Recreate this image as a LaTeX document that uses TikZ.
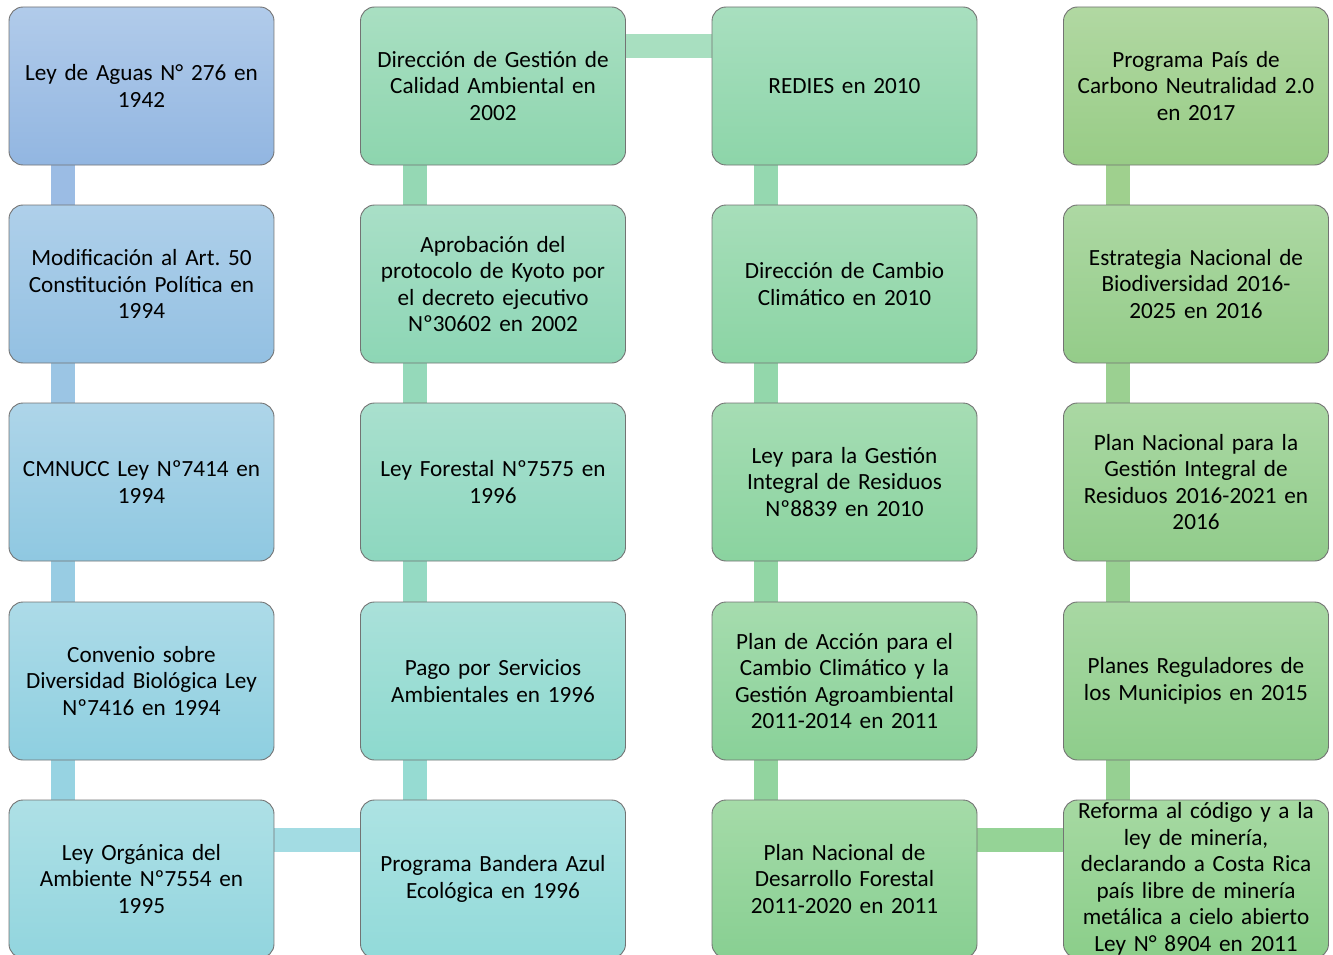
\documentclass[tikz,border=0pt]{standalone}
\usepackage{fontspec}
\setmainfont{Carlito}
\frenchspacing
\begin{document}
\begin{tikzpicture}[x=1pt,y=-1pt,
  box/.style={draw=black!55, line width=0.9pt, rounded corners=14pt,
    minimum width=265pt, minimum height=158pt, inner xsep=4pt, inner ysep=0pt,
    text width=252pt, align=center, font=\fontsize{23.2}{26.5}\selectfont},
  bar/.style={line width=24pt}]
\useasboundingbox (0,0) rectangle (1333,955);
% colours
\definecolor{a1t}{HTML}{B1CBEA}\definecolor{a1b}{HTML}{92B6E1}
\definecolor{a2t}{HTML}{AFD0EA}\definecolor{a2b}{HTML}{93C0E2}
\definecolor{a3t}{HTML}{AED5E9}\definecolor{a3b}{HTML}{8FC8E1}
\definecolor{a4t}{HTML}{ADDBE8}\definecolor{a4b}{HTML}{8ECFE0}
\definecolor{a5t}{HTML}{AEE0E6}\definecolor{a5b}{HTML}{92D5DE}
\definecolor{b1t}{HTML}{A9DFC2}\definecolor{b1b}{HTML}{8DD5AE}
\definecolor{b2t}{HTML}{A9DFC7}\definecolor{b2b}{HTML}{8DD6B5}
\definecolor{b3t}{HTML}{A9E0CE}\definecolor{b3b}{HTML}{8DD7BF}
\definecolor{b4t}{HTML}{AAE1DA}\definecolor{b4b}{HTML}{8DD9CE}
\definecolor{b5t}{HTML}{ADE3E3}\definecolor{b5b}{HTML}{92DAD9}
\definecolor{c1t}{HTML}{A8DFBF}\definecolor{c1b}{HTML}{8DD5A9}
\definecolor{c2t}{HTML}{A7DEBA}\definecolor{c2b}{HTML}{8BD4A4}
\definecolor{c3t}{HTML}{A6DDB4}\definecolor{c3b}{HTML}{8AD39F}
\definecolor{c4t}{HTML}{A6DCAE}\definecolor{c4b}{HTML}{89D199}
\definecolor{c5t}{HTML}{A5DBA8}\definecolor{c5b}{HTML}{88CF92}
\definecolor{d1t}{HTML}{B1D8A2}\definecolor{d1b}{HTML}{98CC86}
\definecolor{d2t}{HTML}{ADD8A3}\definecolor{d2b}{HTML}{94CC89}
\definecolor{d3t}{HTML}{AAD8A3}\definecolor{d3b}{HTML}{91CC8B}
\definecolor{d4t}{HTML}{A8D8A3}\definecolor{d4b}{HTML}{8ECD8B}
\definecolor{d5t}{HTML}{A6D9A2}\definecolor{d5b}{HTML}{8BCE8A}
\def\cA{141.5}\def\cB{493}\def\cC{844.5}\def\cD{1196}
\def\rA{86}\def\rB{284}\def\rC{482}\def\rD{681}\def\rE{879}
% bars drawn first
\foreach \cx/\col in {\cA/a,\cB/b,\cC/c,\cD/d}{
  \foreach \ra/\rb/\k in {\rA/\rB/1,\rB/\rC/2,\rC/\rD/3,\rD/\rE/4}{
    \coordinate (\col\k bs) at (\cx-78.5,\ra+79);
    \coordinate (\col\k be) at (\cx-78.5,\rb-79);
    \draw[bar, color=\col\k b!70!\col\k t] (\col\k bs) -- (\col\k be);
  }}
\coordinate (h1s) at (\cB+132.5,46);\coordinate (h1e) at (\cC-132.5,46);
\draw[bar, color=b1t!50!c1t] (h1s) -- (h1e);
\coordinate (h2s) at (\cA+132.5,839.5);\coordinate (h2e) at (\cB-132.5,839.5);
\draw[bar, color=a5t!60!a5b] (h2s) -- (h2e);
\coordinate (h3s) at (\cC+132.5,839.5);\coordinate (h3e) at (\cD-132.5,839.5);
\draw[bar, color=c5t!40!d5b] (h3s) -- (h3e);
% boxes
\node[box, top color=a1t, bottom color=a1b] (a1) at (\cA,\rA) {Ley de Aguas N° 276 en\\1942};
\node[box, top color=a2t, bottom color=a2b] (a2) at (\cA,\rB) {Modificación al Art. 50\\Constitución Política en\\1994};
\node[box, top color=a3t, bottom color=a3b] (a3) at (\cA,\rC) {CMNUCC Ley Nº7414 en\\1994};
\node[box, top color=a4t, bottom color=a4b] (a4) at (\cA,\rD) {Convenio sobre\\Diversidad Biológica Ley\\Nº7416 en 1994};
\node[box, top color=a5t, bottom color=a5b] (a5) at (\cA,\rE) {Ley Orgánica del\\Ambiente Nº7554 en\\1995};
\node[box, top color=b1t, bottom color=b1b] (b1) at (\cB,\rA) {Dirección de Gestión de\\Calidad Ambiental en\\2002};
\node[box, top color=b2t, bottom color=b2b] (b2) at (\cB,\rB) {Aprobación del\\protocolo de Kyoto por\\el decreto ejecutivo\\Nº30602 en 2002};
\node[box, top color=b3t, bottom color=b3b] (b3) at (\cB,\rC) {Ley Forestal Nº7575 en\\1996};
\node[box, top color=b4t, bottom color=b4b] (b4) at (\cB,\rD) {Pago por Servicios\\Ambientales en 1996};
\node[box, top color=b5t, bottom color=b5b] (b5) at (\cB,\rE) {Programa Bandera Azul\\Ecológica en 1996};
\node[box, top color=c1t, bottom color=c1b] (c1) at (\cC,\rA) {REDIES en 2010};
\node[box, top color=c2t, bottom color=c2b] (c2) at (\cC,\rB) {Dirección de Cambio\\Climático en 2010};
\node[box, top color=c3t, bottom color=c3b] (c3) at (\cC,\rC) {Ley para la Gestión\\Integral de Residuos\\Nº8839 en 2010};
\node[box, top color=c4t, bottom color=c4b] (c4) at (\cC,\rD) {Plan de Acción para el\\Cambio Climático y la\\Gestión Agroambiental\\2011-2014 en 2011};
\node[box, top color=c5t, bottom color=c5b] (c5) at (\cC,\rE) {Plan Nacional de\\Desarrollo Forestal\\2011-2020 en 2011};
\node[box, top color=d1t, bottom color=d1b] (d1) at (\cD,\rA) {Programa País de\\Carbono Neutralidad 2.0\\en 2017};
\node[box, top color=d2t, bottom color=d2b] (d2) at (\cD,\rB) {Estrategia Nacional de\\Biodiversidad 2016-\\2025 en 2016};
\node[box, top color=d3t, bottom color=d3b] (d3) at (\cD,\rC) {Plan Nacional para la\\Gestión Integral de\\Residuos 2016-2021 en\\2016};
\node[box, top color=d4t, bottom color=d4b] (d4) at (\cD,\rD) {Planes Reguladores de\\los Municipios en 2015};
\node[box, top color=d5t, bottom color=d5b] (d5) at (\cD,\rE) {Reforma al código y a la\\ley de minería,\\declarando a Costa Rica\\país libre de minería\\metálica a cielo abierto\\Ley N° 8904 en 2011};
\end{tikzpicture}
\end{document}
